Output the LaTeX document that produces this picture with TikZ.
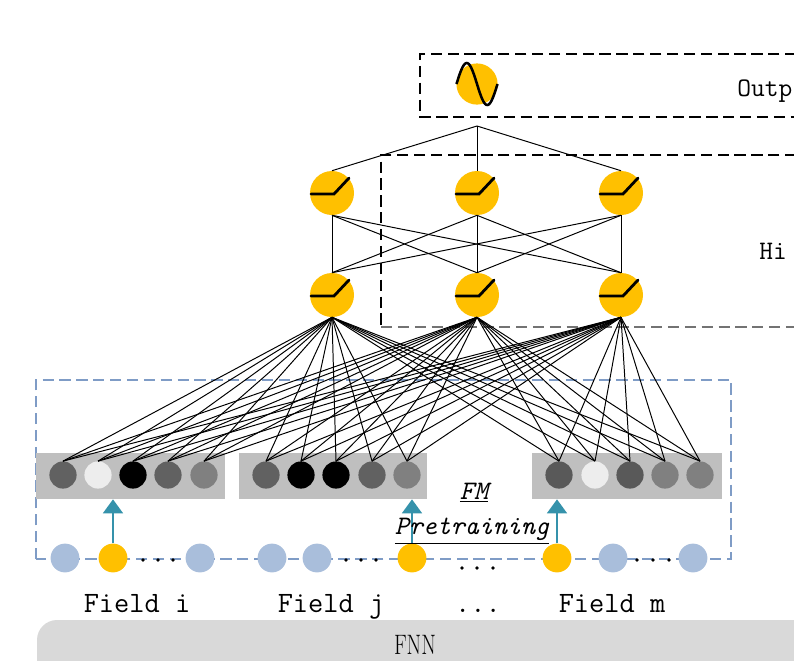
\documentclass[tikz,border=0pt]{standalone}
\usepackage{xcolor}
\usepackage{tikz}
\usetikzlibrary{arrows.meta, calc}

\definecolor{actyellow}{HTML}{FFC000}
\definecolor{inblue}{HTML}{A9BEDB}
\definecolor{fmblue}{HTML}{7F9CC6}
\definecolor{feedteal}{HTML}{3592AB}

\begin{document}
\begin{tikzpicture}[x=0.025cm, y=-0.025cm,
    unit/.style={circle, inner sep=0pt, minimum size=1.1cm, fill=actyellow},
    emb/.style={circle, inner sep=0pt, minimum size=0.68cm},
    inp/.style={circle, inner sep=0pt, minimum size=0.72cm},
    grp/.style={rectangle, inner sep=0pt, fill=black!25, minimum height=1.15cm},
    link/.style={line width=0.7pt},
    relu/.style={line width=2pt, line cap=round},
    boxline/.style={dash pattern=on 8pt off 4pt, line width=1.3pt},
    feed/.style={line width=2pt, feedteal, -{Triangle[width=14pt, length=10pt]}},
    lbl/.style={inner sep=0pt, anchor=base, font=\fontsize{21}{24}\selectfont\ttfamily},
    sidelbl/.style={inner sep=0pt, anchor=base west, font=\fontsize{19}{22}\selectfont\ttfamily},
    fmlbl/.style={inner sep=0pt, font=\fontsize{19}{22}\selectfont\ttfamily\itshape}]
    \useasboundingbox (0,0) rectangle (794,660);
    \clip (0,0) rectangle (794,660);

    % dashed frames
    \draw[boxline] (830,54) -- (420,54) -- (420,117) -- (830,117);
    \draw[boxline] (830,155) -- (381,155) -- (381,327);
    \draw[boxline, black!55, line width=2pt] (381,327) -- (830,327);
    \draw[boxline, fmblue, line width=1.6pt] (36,559) -- (36,380) -- (731,380) -- (731,559) -- cycle;

    % FNN bar
    \fill[black!15, rounded corners=0.5cm] (37,620) rectangle (860,700);

    % embedding groups
    \node[grp, minimum width=4.725cm] (grp1) at (130.5,476) {};
    \node[grp, minimum width=4.7cm] (grp2) at (333,476) {};
    \node[grp, minimum width=4.75cm] (grp3) at (627,476) {};
    \foreach \x/\c [count=\i] in {63/black!62, 98/black!7, 133/black, 168/black!62, 204/black!50,
        266/black!62, 301/black, 336/black, 372/black!62, 407/black!50,
        559/black!65, 595/black!7, 630/black!65, 665/black!50, 700/black!50} {
        \node[emb, fill=\c] (e\i) at (\x,475) {};
    }

    % input units
    \foreach \x/\c [count=\i] in {65/inblue, 113/actyellow, 200/inblue, 272/inblue, 317/inblue,
        412/actyellow, 557/actyellow, 613/inblue, 693/inblue} {
        \node[inp, fill=\c] (in\i) at (\x,558) {};
    }

    % hidden and output units
    \foreach \x [count=\i] in {332,477,621} {
        \node[unit] (h2\i) at (\x,193) {};
        \node[unit] (h1\i) at (\x,295) {};
    }
    \node[unit, minimum size=1.03cm] (out) at (477,84) {};
    \coordinate (outjoin) at (477,126);

    % connections
    \foreach \a in {1,2,3} {
        \draw[link] (outjoin) -- (h2\a.north);
        \foreach \b in {1,2,3}
            \draw[link] (h2\a.south) -- (h1\b.north);
        \foreach \i in {1,...,15}
            \draw[link] (h1\a.south) -- (e\i.north);
    }

    % activation symbols
    \foreach \n in {h21,h22,h23,h11,h12,h13} {
        \draw[relu] ([shift={(-21,1)}]\n.center) -- ++(23,0) -- ++(15,-16);
    }
    \draw[line width=1.8pt, shift={(out.center)}] plot[domain=0:360, samples=50, smooth] ({\x/360*41-20.5}, {-21*sin(\x)});

    % lookup arrows
    \foreach \i/\g in {2/grp1, 6/grp2, 7/grp3} {
        \draw[feed] (in\i.north) -- (in\i |- \g.south);
    }

    % dots
    \foreach \x in {143,158,173,346,361,376,637,653,669} {
        \fill (\x,560) circle (1.4pt);
    }
    \foreach \x in {462,477,493} {
        \fill (\x,568) circle (1.4pt);
    }

    % labels
    \node[fmlbl] (fmlabel) at (474,493) {\underline{FM}};
    \node[fmlbl] (pretrlabel) at (472,531) {\underline{Pretraining}};
    \node[lbl] (fieldi) at (137,612) {Field i};
    \node[lbl] (fieldj) at (331,612) {Field j};
    \node[lbl] (fielddots) at (478,612) {...};
    \node[lbl] (fieldm) at (612,612) {Field m};
    \node[sidelbl] (outlabel) at (737,96) {Outp};
    \node[sidelbl] (hidlabel) at (759,259) {Hi};
    \node[inner sep=0pt, xscale=0.75, font=\fontsize{20}{22}\selectfont] (fnnlabel) at (415,645) {FNN};
\end{tikzpicture}
\end{document}
